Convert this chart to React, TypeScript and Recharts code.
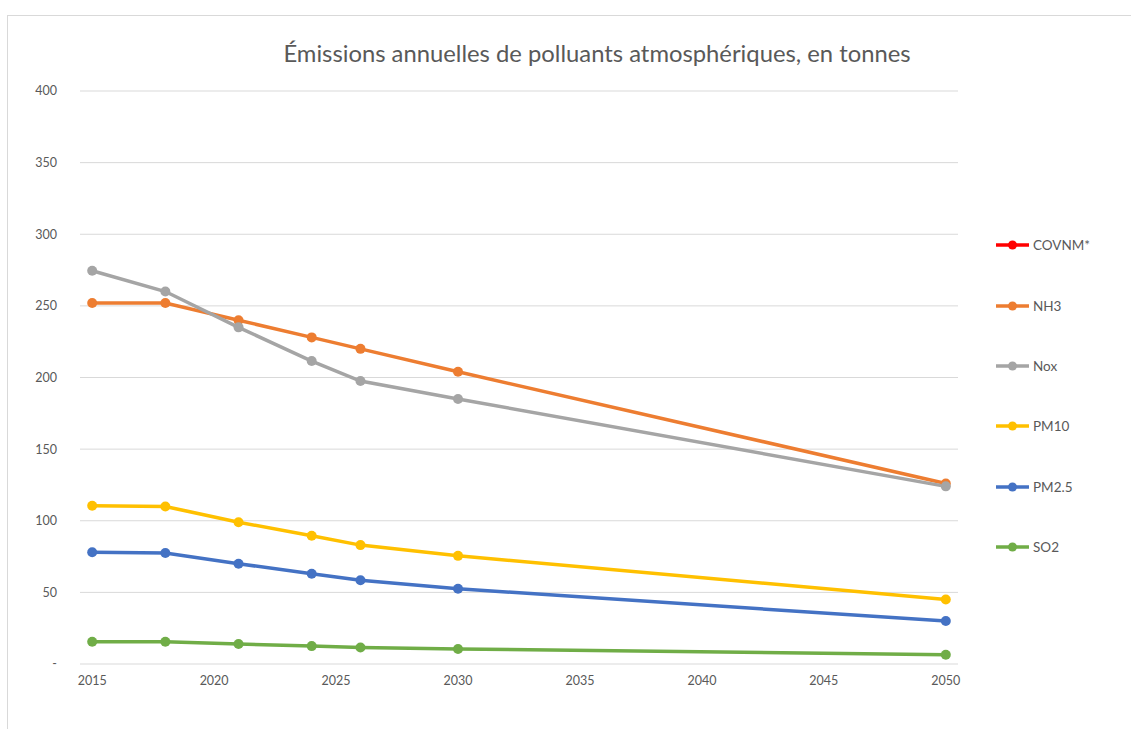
import { LineChart, Line, XAxis, YAxis, CartesianGrid, Legend } from 'recharts'

const years = [2015, 2018, 2021, 2024, 2026, 2030, 2050]

// tonnes par an
const covnm: (number | null)[] = [null, null, null, null, null, null, null]
const nh3 = [252, 252, 240, 228, 220, 204, 126]
const nox = [274.5, 260, 235, 211.5, 197.5, 185, 124]
const pm10 = [110.5, 110, 99, 89.5, 83, 75.5, 45]
const pm25 = [78, 77.5, 70, 63, 58.5, 52.5, 30]
const so2 = [15.5, 15.5, 14, 12.5, 11.5, 10.5, 6.5]

const yTicks = [0, 50, 100, 150, 200, 250, 300, 350, 400]
const xTicks = [2015, 2020, 2025, 2030, 2035, 2040, 2045, 2050]

const series = [
  { key: 'COVNM*', values: covnm, color: '#ff0000' },
  { key: 'NH3', values: nh3, color: '#ed7d31' },
  { key: 'Nox', values: nox, color: '#a5a5a5' },
  { key: 'PM10', values: pm10, color: '#ffc000' },
  { key: 'PM2.5', values: pm25, color: '#4472c4' },
  { key: 'SO2', values: so2, color: '#70ad47' },
]

const data = years.map((year, i) => {
  const row: Record<string, number | null> = { year }
  series.forEach(s => { row[s.key] = s.values[i] })
  return row
})

const FONT = 'Lato, "Open Sans", sans-serif'
const TEXT = '#595959'

const SideLegend = ({ payload }: any) => (
  <div style={{ fontFamily: FONT, fontSize: 13.5, color: TEXT }}>
    {(payload || []).map((p: any) => (
      <div key={p.value} style={{ display: 'flex', alignItems: 'center', height: 60.4 }}>
        <svg width={34} height={12} style={{ marginRight: 3 }}>
          <line x1={0} y1={6} x2={33} y2={6} stroke={p.color} strokeWidth={3.5} />
          <circle cx={16.5} cy={6} r={4.5} fill={p.color} />
        </svg>
        <span>{p.value}</span>
      </div>
    ))}
  </div>
)

export default function App() {
  return (
    <div style={{ position: 'absolute', left: 0, top: 0, width: 1131, height: 729, background: '#fff' }}>
      <div style={{ position: 'absolute', left: 7, top: 15, right: 0, bottom: 0, borderTop: '1px solid #d9d9d9', borderLeft: '1px solid #d9d9d9' }} />
      <div style={{ position: 'absolute', left: 80, width: 1034, top: 39, textAlign: 'center', fontFamily: FONT, fontSize: 23.8, color: TEXT }}>
        Émissions annuelles de polluants atmosphériques, en tonnes
      </div>
      <LineChart width={1131} height={729} data={data} margin={{ top: 91, right: 43, bottom: 35, left: 0 }}>
        <CartesianGrid horizontal vertical={false} stroke="#d9d9d9" strokeWidth={1} />
        <XAxis
          dataKey="year"
          type="number"
          domain={[2014.5, 2050.5]}
          ticks={xTicks}
          height={30}
          axisLine={false}
          tickLine={false}
          tickMargin={6}
          tick={{ fill: TEXT, fontSize: 12.5, fontFamily: FONT }}
        />
        <YAxis
          domain={[0, 400]}
          ticks={yTicks}
          width={80}
          axisLine={false}
          tickLine={false}
          tickMargin={17}
          tickFormatter={(v: number) => (v === 0 ? '-' : String(v))}
          tick={{ fill: TEXT, fontSize: 12.5, fontFamily: FONT }}
        />
        <Legend
          layout="vertical"
          align="right"
          verticalAlign="top"
          content={<SideLegend />}
          wrapperStyle={{ left: 996, top: 215, width: 130 }}
        />
        {series.map(s => (
          <Line
            key={s.key}
            dataKey={s.key}
            stroke={s.color}
            strokeWidth={3.5}
            dot={{ r: 5, fill: s.color, stroke: 'none' }}
            activeDot={false}
            isAnimationActive={false}
          />
        ))}
      </LineChart>
    </div>
  )
}
